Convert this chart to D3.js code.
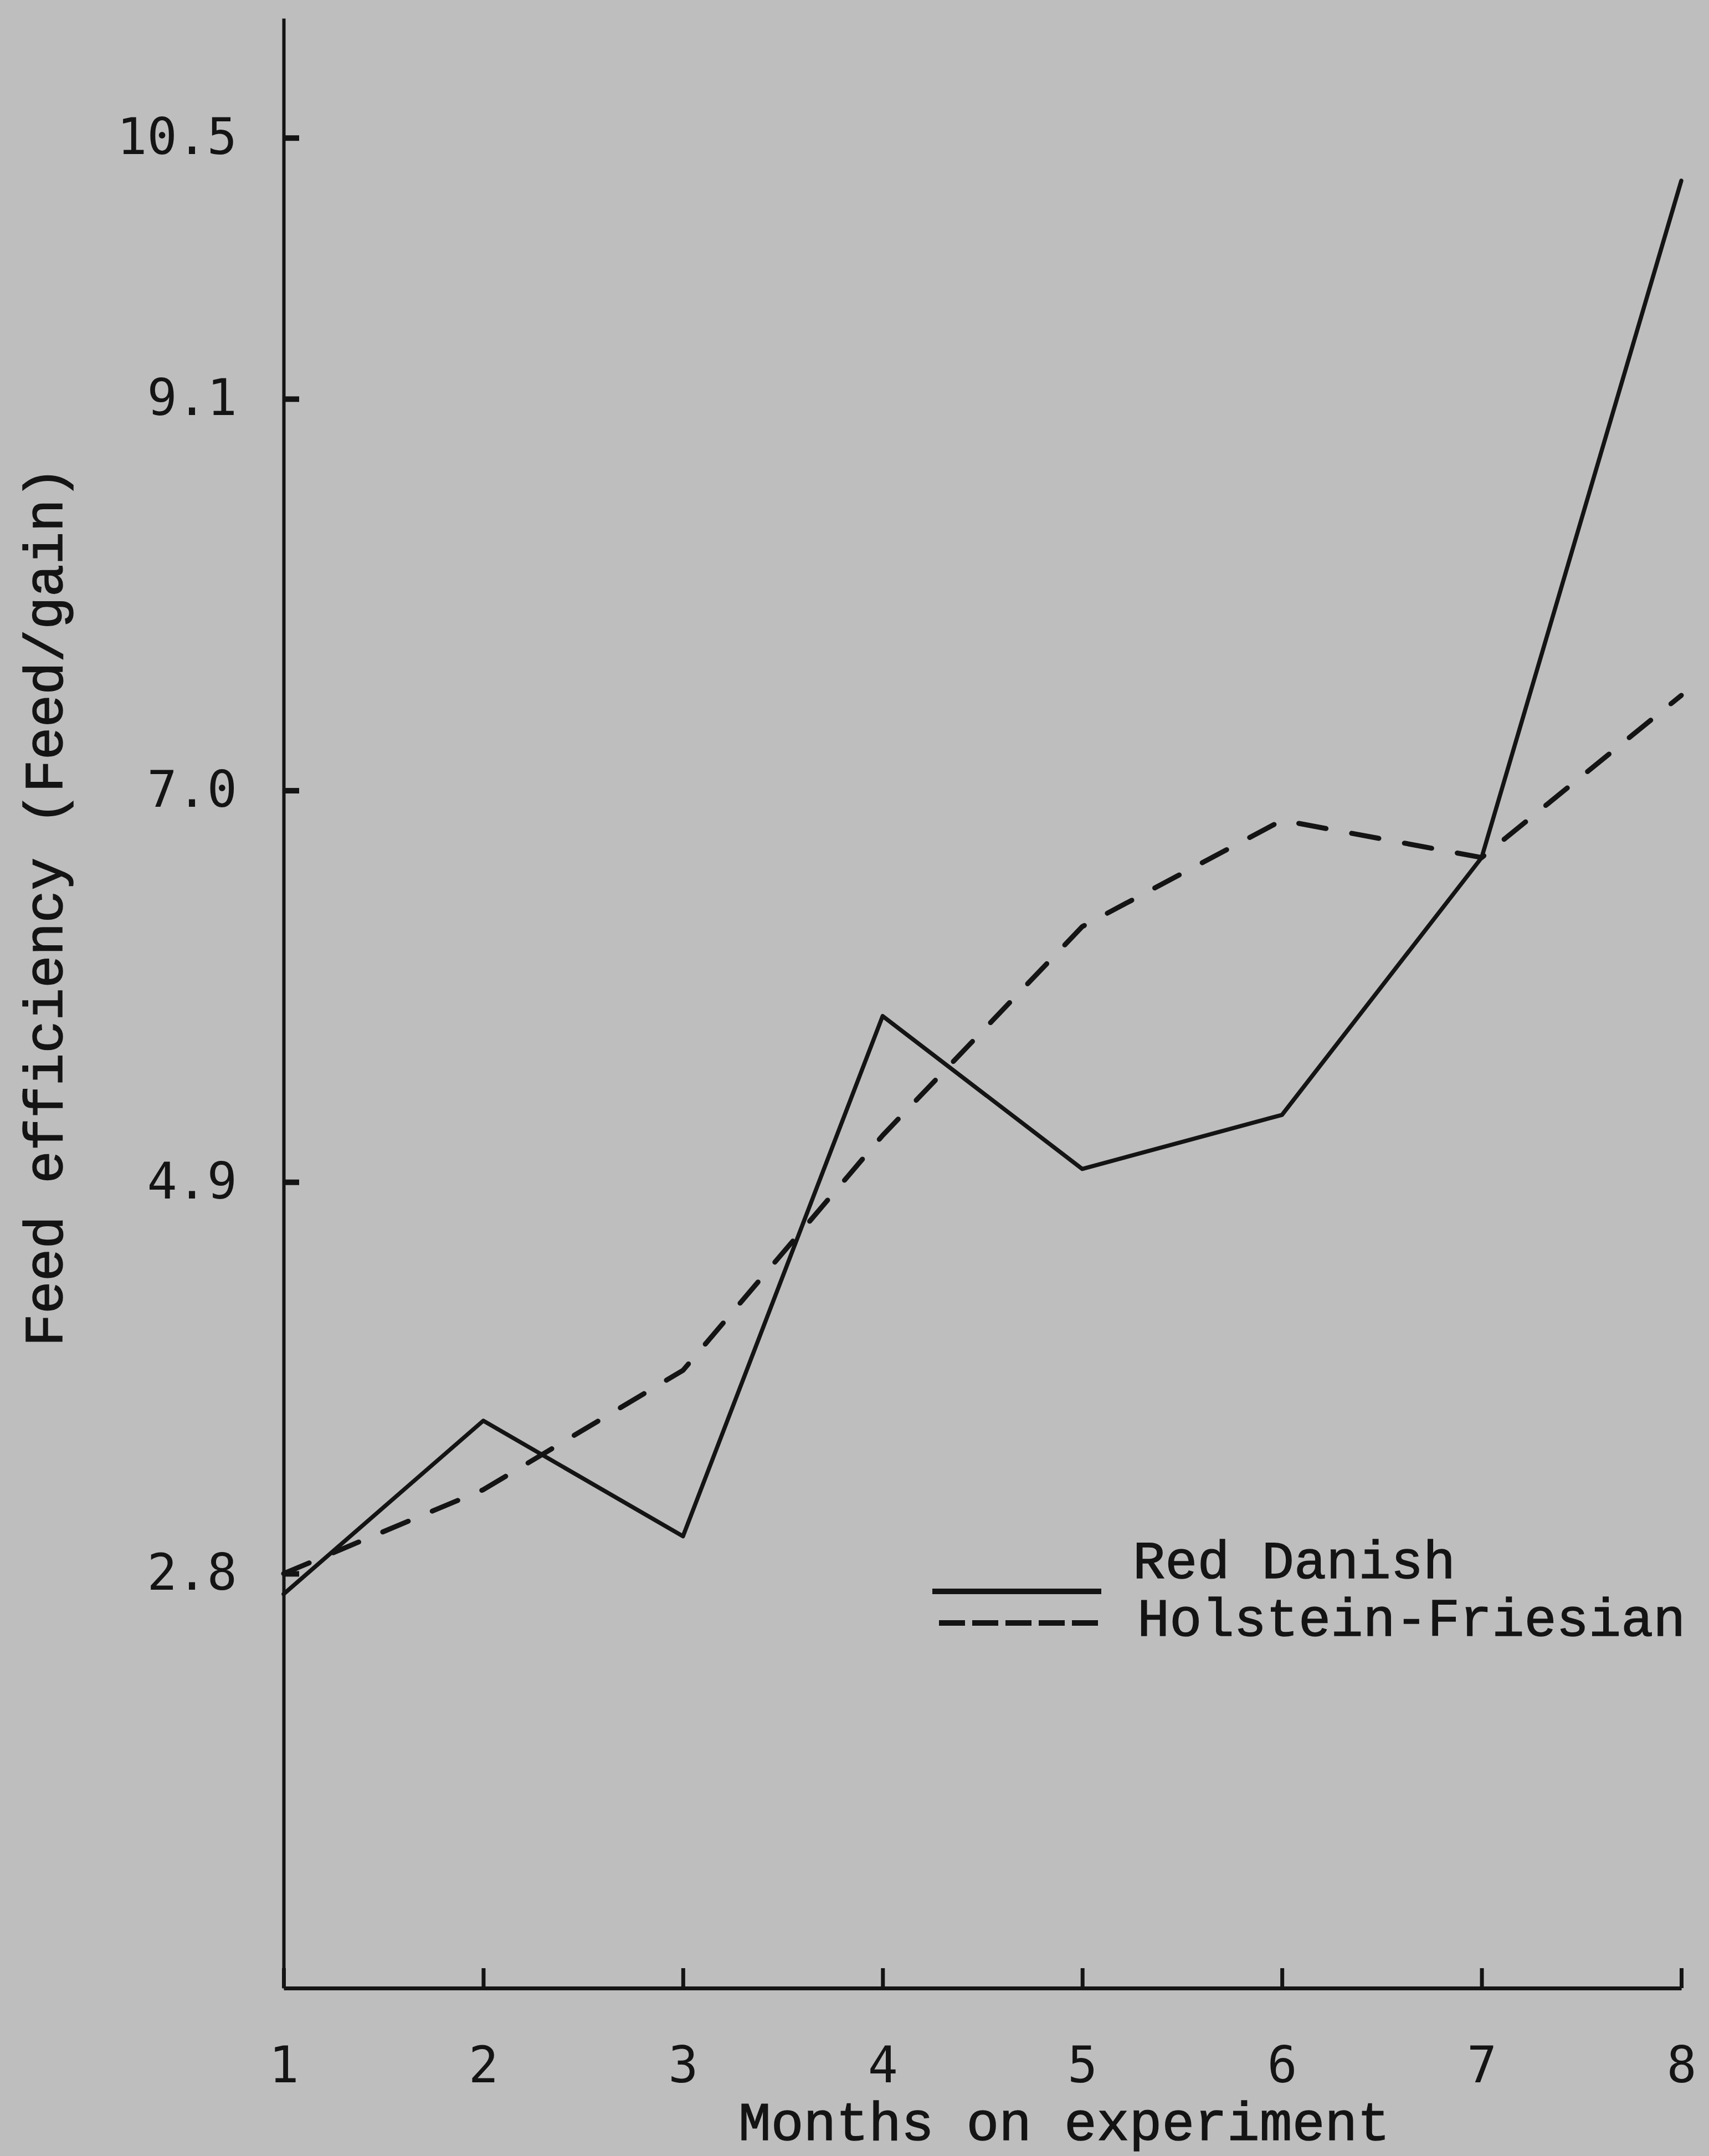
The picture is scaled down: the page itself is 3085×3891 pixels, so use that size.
<!DOCTYPE html>
<html>
<head>
<meta charset="utf-8">
<script src="https://cdn.jsdelivr.net/npm/d3@7"></script>
<style>
    body { margin: 0; background: #bdbdbd; }
    #wrapper svg { display: block; }
</style>
</head>
<body>
<div id="wrapper"></div>
<script>
// values
const months = [1, 2, 3, 4, 5, 6, 7, 8]
const redDanish = [2.69, 3.62, 3.00, 5.79, 4.97, 5.26, 6.64, 10.27]
const holsteinFriesian = [2.80, 3.25, 3.89, 5.15, 6.27, 6.84, 6.64, 7.51]
const yTickValues = [2.8, 4.9, 7.0, 9.1, 10.5]
const seriesNames = ["Red Danish", "Holstein-Friesian"]
const xTitle = "Months on experiment"
const yTitle = "Feed efficiency (Feed/gain)"

function drawChart(){
    const dimensions = {
        width: 3085,
        height: 3891,
        margin: {
            top: 33,
            right: 50,
            bottom: 303,
            left: 512
        }
    }
    dimensions.boundedWidth = dimensions.width - dimensions.margin.left - dimensions.margin.right
    dimensions.boundedHeight = dimensions.height - dimensions.margin.top - dimensions.margin.bottom

    const ink = "#141414"
    const tickFont = "'DejaVu Sans Mono', monospace"
    const typeFont = "'Liberation Mono', 'Courier New', monospace"

    const series = [
        { name: seriesNames[0], values: months.map((m, i) => ({ month: m, value: redDanish[i] })), dash: null },
        { name: seriesNames[1], values: months.map((m, i) => ({ month: m, value: holsteinFriesian[i] })), dash: "50,47" }
    ]

    const xAccessor = d => d.month
    const yAccessor = d => d.value

    const wrapper = d3.select("#wrapper")
        .append("svg")
        .attr("width", dimensions.width)
        .attr("height", dimensions.height)

    wrapper.append("rect")
        .attr("width", dimensions.width)
        .attr("height", dimensions.height)
        .attr("fill", "#bebebe")

    const bounds = wrapper.append("g")
        .attr("transform", `translate(${dimensions.margin.left},${dimensions.margin.top})`)

    const xScale = d3.scaleLinear()
        .domain(d3.extent(months))
        .range([0, dimensions.boundedWidth])

    // axis bottom sits a bit above zero on the original sheet
    const yScale = d3.scaleLinear()
        .domain([0.577, 11.141])
        .range([dimensions.boundedHeight, 0])

    // axes
    const yAxis = d3.axisLeft(yScale)
        .tickValues(yTickValues)
        .tickFormat(d3.format(".1f"))
        .tickSizeInner(-28)
        .tickSizeOuter(0)
        .tickPadding(84)

    const yAxisGroup = bounds.append("g").call(yAxis)
    yAxisGroup.select(".domain").attr("stroke", ink).attr("stroke-width", 6)
    yAxisGroup.selectAll(".tick line").attr("stroke", ink).attr("stroke-width", 10)
    yAxisGroup.selectAll(".tick text")
        .attr("fill", ink)
        .style("font-family", tickFont)
        .style("font-size", "90px")

    const xAxis = d3.axisBottom(xScale)
        .tickValues(months)
        .tickFormat(d3.format("d"))
        .tickSizeInner(-36)
        .tickSizeOuter(0)
        .tickPadding(106)

    const xAxisGroup = bounds.append("g")
        .attr("transform", `translate(0,${dimensions.boundedHeight})`)
        .call(xAxis)
    xAxisGroup.select(".domain").attr("stroke", ink).attr("stroke-width", 7)
    xAxisGroup.selectAll(".tick line").attr("stroke", ink).attr("stroke-width", 7)
    xAxisGroup.selectAll(".tick text")
        .attr("fill", ink)
        .style("font-family", tickFont)
        .style("font-size", "90px")

    // lines
    const lineGenerator = d3.line()
        .x(d => xScale(xAccessor(d)))
        .y(d => yScale(yAccessor(d)))

    bounds.selectAll(".series")
        .data(series)
        .join("path")
            .attr("class", "series")
            .attr("d", d => lineGenerator(d.values))
            .attr("fill", "none")
            .attr("stroke", ink)
            .attr("stroke-width", d => d.dash ? 9 : 7.5)
            .attr("stroke-linecap", "round")
            .attr("stroke-linejoin", "round")
            .attr("stroke-dasharray", d => d.dash)

    // legend
    const legend = wrapper.append("g")
        .attr("transform", "translate(1683,2872)")

    legend.selectAll(".key")
        .data(series)
        .join("line")
            .attr("class", "key")
            .attr("x1", (d, i) => i ? 12 : 0)
            .attr("x2", 305)
            .attr("y1", (d, i) => i * 57)
            .attr("y2", (d, i) => i * 57)
            .attr("stroke", ink)
            .attr("stroke-width", 10)
            .attr("stroke-dasharray", (d, i) => i ? "47,13" : null)

    legend.selectAll(".label")
        .data(series)
        .join("text")
            .attr("class", "label")
            .attr("x", (d, i) => i ? 370 : 362)
            .attr("y", (d, i) => i ? 80 : -24)
            .attr("fill", ink)
            .attr("stroke", ink)
            .attr("stroke-width", 1.5)
            .style("font-family", typeFont)
            .style("font-size", "97px")
            .text(d => d.name)

    // axis titles
    wrapper.append("text")
        .attr("x", 1921)
        .attr("y", 3862)
        .attr("text-anchor", "middle")
        .attr("fill", ink)
        .attr("stroke", ink)
        .attr("stroke-width", 1.5)
        .style("font-family", typeFont)
        .style("font-size", "98px")
        .text(xTitle)

    wrapper.append("text")
        .attr("transform", "translate(112,1636) rotate(-90)")
        .attr("text-anchor", "middle")
        .attr("fill", ink)
        .attr("stroke", ink)
        .attr("stroke-width", 1.5)
        .style("font-family", typeFont)
        .style("font-size", "98px")
        .text(yTitle)
}

drawChart()
</script>
</body>
</html>
